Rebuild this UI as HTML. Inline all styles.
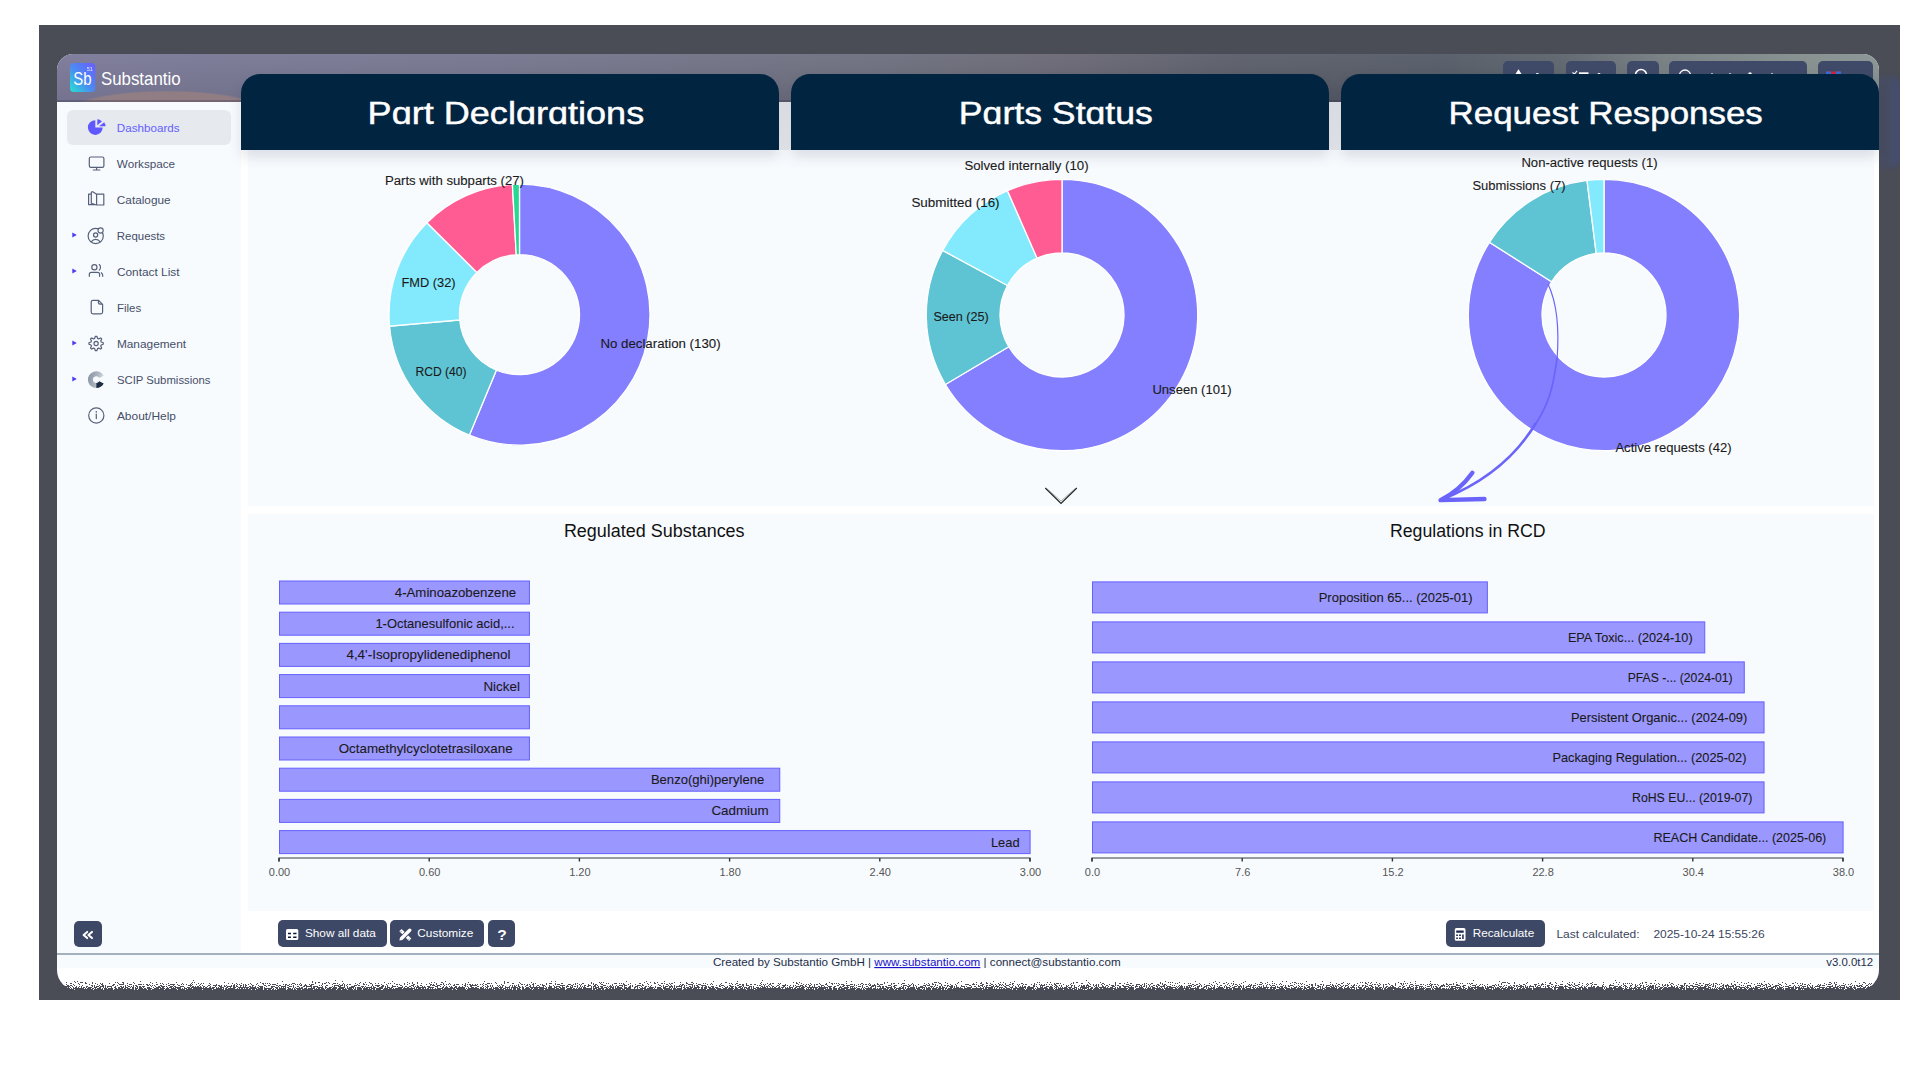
<!DOCTYPE html>
<html><head><meta charset="utf-8">
<style>
* { margin:0; padding:0; box-sizing:border-box; }
html,body { width:1920px; height:1080px; overflow:hidden; background:#fff; }
.a { position:absolute; }
.ttl { position:absolute; top:74px; width:538px; height:76px; background:#012441; border-radius:19px 19px 0 0; box-shadow:0 7px 14px rgba(20,30,60,0.13); }
.btn { position:absolute; top:920px; height:27px; background:#3d4866; border-radius:5px; }
.hb { position:absolute; top:61px; height:30px; background:#3f4a68; border-radius:5px; }
svg text { font-family:"Liberation Sans", sans-serif; }
</style></head><body>
<div class="a" style="left:39px;top:25px;width:1861px;height:975px;background:#4a4c56"></div>
<div class="a" style="left:57px;top:54px;width:1822px;height:936px;background:#fff;border-radius:16px 16px 20px 20px;overflow:hidden">
  <div class="a" style="left:0;top:0;width:1822px;height:48px;background:linear-gradient(180deg,rgba(255,255,255,0.03),rgba(0,0,0,0.07)),linear-gradient(90deg,#7d7b9a 0%,#777890 24%,#6f7180 45%,#6c6a76 55%,#5c606c 65%,#575d69 76%,#5f666e 82.5%,#777f83 88%,#86908f 96%,#8a9494 100%)"></div>
  <div class="a" style="left:0;top:0;width:1822px;height:48px;background:radial-gradient(ellipse 100px 21px at 110px 57.5px, rgba(152,128,130,0.8) 0%, rgba(152,128,130,0.8) 93%, rgba(152,128,130,0) 100%)"></div>
  <div class="a" style="left:0;top:46px;width:1822px;height:2px;background:rgba(60,60,80,0.35)"></div>
  <div class="a" style="left:0;top:48px;width:184px;height:851px;background:#f8fbfe"></div>
</div>
<div class="hb" style="left:1503px;width:51px"></div>
<div class="hb" style="left:1566px;width:50px"></div>
<div class="hb" style="left:1627px;width:32px"></div>
<div class="hb" style="left:1669px;width:138px"></div>
<div class="hb" style="left:1818px;width:55px"></div>
<svg class="a" style="left:0;top:0" width="1920" height="74"><path d="M1515.5,74 L1518.5,69.3 L1521.5,74 Z" fill="#fff"/><circle cx="1537.3" cy="74.5" r="1.6" fill="#fff"/>
<path d="M1572.5,72.5 L1574.5,74 L1577,70.8" fill="none" stroke="#fff" stroke-width="1.1"/><rect x="1579" y="72.3" width="9.5" height="1.8" fill="#fff"/><circle cx="1599" cy="74.5" r="1.6" fill="#fff"/>
<circle cx="1641" cy="75" r="5.5" fill="none" stroke="#fff" stroke-width="1.6"/>
<circle cx="1685" cy="75.5" r="5.5" fill="none" stroke="#fff" stroke-width="1.3"/><circle cx="1712" cy="74.5" r="1.3" fill="#fff"/><circle cx="1730" cy="74.5" r="1.3" fill="#fff"/><circle cx="1750" cy="74" r="1.8" fill="#fff"/><circle cx="1772" cy="74.5" r="1.3" fill="#fff"/>
<rect x="1826" y="71.5" width="15" height="2.5" fill="#c8283c"/><rect x="1826" y="71.5" width="5" height="2.5" fill="#3a6bd6"/><rect x="1836" y="71.5" width="5" height="2.5" fill="#3a6bd6"/></svg>
<div class="a" style="left:241px;top:102px;width:1638px;height:48px;background:linear-gradient(180deg,#e4e7eb,#e8eaee)"></div>
<div class="a" style="left:248px;top:150px;width:1626px;height:356px;background:#f8fbfe"></div>
<div class="a" style="left:248px;top:514px;width:1626px;height:397px;background:#f8fbfe"></div>
<div class="a" style="left:1879px;top:72px;width:21px;height:100px;overflow:hidden"><div class="a" style="left:-10px;top:4px;width:31px;height:92px;background:linear-gradient(90deg,rgba(70,82,115,0.45),rgba(66,80,130,0.25) 60%,rgba(60,80,150,0.5));border-radius:0 10px 10px 0;filter:blur(2px)"></div></div>
<div class="a" style="left:57px;top:955px;width:1822px;height:13px;background:#f8fbfe"></div>
<div class="a" style="left:57px;top:953px;width:1822px;height:2px;background:#a3b0bd"></div>
<div class="a" style="left:67px;top:110px;width:164px;height:35px;background:#e6e9ee;border-radius:6px"></div>
<div class="ttl" style="left:241px"></div>
<div class="ttl" style="left:791px"></div>
<div class="ttl" style="left:1341px"></div>
<div class="btn" style="left:278px;width:109px"></div>
<div class="btn" style="left:390px;width:94px"></div>
<div class="btn" style="left:488px;width:27px"></div>
<div class="btn" style="left:1446px;width:99px"></div>
<div class="btn" style="left:74px;top:921px;width:28px;height:26px"></div>
<svg class="a" style="left:0;top:0" width="1920" height="1080">
<defs>
<linearGradient id="tg" x1="0" y1="0" x2="0" y2="1"><stop offset="0" stop-color="#000" stop-opacity="0"/><stop offset="1" stop-color="#000" stop-opacity="1"/></linearGradient>
<filter id="tear" x="0" y="0" width="1" height="1" filterUnits="objectBoundingBox">
<feTurbulence type="fractalNoise" baseFrequency="0.9" numOctaves="3" seed="7" result="n"/>
<feComposite in="SourceGraphic" in2="n" operator="arithmetic" k1="0" k2="1" k3="1.6" k4="-0.78" result="m"/>
<feComponentTransfer in="m" result="t"><feFuncA type="discrete" tableValues="0 1"/></feComponentTransfer>
<feFlood flood-color="#4a4c56"/>
<feComposite in2="t" operator="in"/>
</filter>
</defs>
<path d="M519.50,184.20 A130.5,130.5 0 1 1 469.35,435.18 L496.44,370.09 A60,60 0 1 0 519.50,254.70 Z" fill="#837ffe" stroke="#fff" stroke-width="1.3"/>
<path d="M469.35,435.18 A130.5,130.5 0 0 1 389.51,326.22 L459.73,320.00 A60,60 0 0 0 496.44,370.09 Z" fill="#5ec4d4" stroke="#fff" stroke-width="1.3"/>
<path d="M389.51,326.22 A130.5,130.5 0 0 1 426.91,222.74 L476.93,272.42 A60,60 0 0 0 459.73,320.00 Z" fill="#83eafe" stroke="#fff" stroke-width="1.3"/>
<path d="M426.91,222.74 A130.5,130.5 0 0 1 512.40,184.39 L516.24,254.79 A60,60 0 0 0 476.93,272.42 Z" fill="#ff5c94" stroke="#fff" stroke-width="1.3"/>
<path d="M512.40,184.39 A130.5,130.5 0 0 1 519.50,184.20 L519.50,254.70 A60,60 0 0 0 516.24,254.79 Z" fill="#26d894" stroke="#fff" stroke-width="1.3"/>
<path d="M1062.00,179.30 A135.7,135.7 0 1 1 945.43,384.46 L1008.74,346.74 A62,62 0 1 0 1062.00,253.00 Z" fill="#837ffe" stroke="#fff" stroke-width="1.3"/>
<path d="M945.43,384.46 A135.7,135.7 0 0 1 942.66,250.41 L1007.47,285.49 A62,62 0 0 0 1008.74,346.74 Z" fill="#5ec4d4" stroke="#fff" stroke-width="1.3"/>
<path d="M942.66,250.41 A135.7,135.7 0 0 1 1007.49,190.73 L1037.09,258.22 A62,62 0 0 0 1007.47,285.49 Z" fill="#83eafe" stroke="#fff" stroke-width="1.3"/>
<path d="M1007.49,190.73 A135.7,135.7 0 0 1 1062.00,179.30 L1062.00,253.00 A62,62 0 0 0 1037.09,258.22 Z" fill="#ff5c94" stroke="#fff" stroke-width="1.3"/>
<path d="M1604.00,179.30 A135.7,135.7 0 1 1 1489.42,242.29 L1551.65,281.78 A62,62 0 1 0 1604.00,253.00 Z" fill="#837ffe" stroke="#fff" stroke-width="1.3"/>
<path d="M1489.42,242.29 A135.7,135.7 0 0 1 1586.99,180.37 L1596.23,253.49 A62,62 0 0 0 1551.65,281.78 Z" fill="#5ec4d4" stroke="#fff" stroke-width="1.3"/>
<path d="M1586.99,180.37 A135.7,135.7 0 0 1 1604.00,179.30 L1604.00,253.00 A62,62 0 0 0 1596.23,253.49 Z" fill="#83eafe" stroke="#fff" stroke-width="1.3"/>
<text x="384.9" y="185.2" font-size="12.5" fill="#1a1a1a" textLength="139.1" lengthAdjust="spacingAndGlyphs" stroke="#1a1a1a" stroke-width="0.1">Parts with subparts (27)</text>
<text x="401.4" y="287.3" font-size="12.5" fill="#1a1a1a" textLength="54.2" lengthAdjust="spacingAndGlyphs" stroke="#1a1a1a" stroke-width="0.1">FMD (32)</text>
<text x="415.4" y="376.3" font-size="12.5" fill="#1a1a1a" textLength="51.2" lengthAdjust="spacingAndGlyphs" stroke="#1a1a1a" stroke-width="0.1">RCD (40)</text>
<text x="600.4" y="348.3" font-size="12.5" fill="#1a1a1a" textLength="120.2" lengthAdjust="spacingAndGlyphs" stroke="#1a1a1a" stroke-width="0.1">No declaration (130)</text>
<text x="964.4" y="170.3" font-size="12.5" fill="#1a1a1a" textLength="124.2" lengthAdjust="spacingAndGlyphs" stroke="#1a1a1a" stroke-width="0.1">Solved internally (10)</text>
<text x="911.4" y="207.3" font-size="12.5" fill="#1a1a1a" textLength="88.2" lengthAdjust="spacingAndGlyphs" stroke="#1a1a1a" stroke-width="0.1">Submitted (16)</text>
<text x="933.4" y="321.3" font-size="12.5" fill="#1a1a1a" textLength="55.2" lengthAdjust="spacingAndGlyphs" stroke="#1a1a1a" stroke-width="0.1">Seen (25)</text>
<text x="1152.4" y="394.3" font-size="12.5" fill="#1a1a1a" textLength="79.2" lengthAdjust="spacingAndGlyphs" stroke="#1a1a1a" stroke-width="0.1">Unseen (101)</text>
<text x="1521.4" y="167.3" font-size="12.5" fill="#1a1a1a" textLength="136.2" lengthAdjust="spacingAndGlyphs" stroke="#1a1a1a" stroke-width="0.1">Non-active requests (1)</text>
<text x="1472.4" y="190.3" font-size="12.5" fill="#1a1a1a" textLength="93.2" lengthAdjust="spacingAndGlyphs" stroke="#1a1a1a" stroke-width="0.1">Submissions (7)</text>
<text x="1615.4" y="452.3" font-size="12.5" fill="#1a1a1a" textLength="116.2" lengthAdjust="spacingAndGlyphs" stroke="#1a1a1a" stroke-width="0.1">Active requests (42)</text>
<rect x="279.5" y="581.00" width="249.93" height="23" fill="#9a97fe" stroke="#6560ff" stroke-width="1"/>
<text x="394.8" y="597.0" font-size="13" fill="#1a1a1a" textLength="121.3" lengthAdjust="spacingAndGlyphs" stroke="#1a1a1a" stroke-width="0.1">4-Aminoazobenzene</text>
<rect x="279.5" y="612.20" width="249.93" height="23" fill="#9a97fe" stroke="#6560ff" stroke-width="1"/>
<text x="375.4" y="628.2" font-size="13" fill="#1a1a1a" textLength="139.2" lengthAdjust="spacingAndGlyphs" stroke="#1a1a1a" stroke-width="0.1">1-Octanesulfonic acid,...</text>
<rect x="279.5" y="643.40" width="249.93" height="23" fill="#9a97fe" stroke="#6560ff" stroke-width="1"/>
<text x="346.4" y="659.4" font-size="13" fill="#1a1a1a" textLength="164.2" lengthAdjust="spacingAndGlyphs" stroke="#1a1a1a" stroke-width="0.1">4,4'-Isopropylidenediphenol</text>
<rect x="279.5" y="674.60" width="249.93" height="23" fill="#9a97fe" stroke="#6560ff" stroke-width="1"/>
<text x="483.4" y="690.6" font-size="13" fill="#1a1a1a" textLength="36.5" lengthAdjust="spacingAndGlyphs" stroke="#1a1a1a" stroke-width="0.1">Nickel</text>
<rect x="279.5" y="705.80" width="249.93" height="23" fill="#9a97fe" stroke="#6560ff" stroke-width="1"/>
<rect x="279.5" y="737.00" width="249.93" height="23" fill="#9a97fe" stroke="#6560ff" stroke-width="1"/>
<text x="338.7" y="753.0" font-size="13" fill="#1a1a1a" textLength="173.9" lengthAdjust="spacingAndGlyphs" stroke="#1a1a1a" stroke-width="0.1">Octamethylcyclotetrasiloxane</text>
<rect x="279.5" y="768.20" width="500.27" height="23" fill="#9a97fe" stroke="#6560ff" stroke-width="1"/>
<text x="650.9" y="784.2" font-size="13" fill="#1a1a1a" textLength="113.3" lengthAdjust="spacingAndGlyphs" stroke="#1a1a1a" stroke-width="0.1">Benzo(ghi)perylene</text>
<rect x="279.5" y="799.40" width="500.27" height="23" fill="#9a97fe" stroke="#6560ff" stroke-width="1"/>
<text x="711.4" y="815.4" font-size="13" fill="#1a1a1a" textLength="57.2" lengthAdjust="spacingAndGlyphs" stroke="#1a1a1a" stroke-width="0.1">Cadmium</text>
<rect x="279.5" y="830.60" width="750.60" height="23" fill="#9a97fe" stroke="#6560ff" stroke-width="1"/>
<text x="990.9" y="846.6" font-size="13" fill="#1a1a1a" textLength="28.7" lengthAdjust="spacingAndGlyphs" stroke="#1a1a1a" stroke-width="0.1">Lead</text>
<path d="M279,861.5 V858 H1030 V861.5" fill="none" stroke="#3a3a3a" stroke-width="1.2"/>
<line x1="279.0" y1="858" x2="279.0" y2="861.5" stroke="#333" stroke-width="1.4"/>
<text x="279.5" y="875.5" font-size="11" fill="#555" text-anchor="middle">0.00</text>
<line x1="429.2" y1="858" x2="429.2" y2="861.5" stroke="#333" stroke-width="1.4"/>
<text x="429.7" y="875.5" font-size="11" fill="#555" text-anchor="middle">0.60</text>
<line x1="579.4" y1="858" x2="579.4" y2="861.5" stroke="#333" stroke-width="1.4"/>
<text x="579.9" y="875.5" font-size="11" fill="#555" text-anchor="middle">1.20</text>
<line x1="729.6" y1="858" x2="729.6" y2="861.5" stroke="#333" stroke-width="1.4"/>
<text x="730.1" y="875.5" font-size="11" fill="#555" text-anchor="middle">1.80</text>
<line x1="879.8" y1="858" x2="879.8" y2="861.5" stroke="#333" stroke-width="1.4"/>
<text x="880.3" y="875.5" font-size="11" fill="#555" text-anchor="middle">2.40</text>
<line x1="1030.0" y1="858" x2="1030.0" y2="861.5" stroke="#333" stroke-width="1.4"/>
<text x="1030.5" y="875.5" font-size="11" fill="#555" text-anchor="middle">3.00</text>
<rect x="1092.5" y="581.90" width="394.86" height="31" fill="#9a97fe" stroke="#6560ff" stroke-width="1"/>
<text x="1318.7" y="601.9" font-size="13" fill="#1a1a1a" textLength="153.9" lengthAdjust="spacingAndGlyphs" stroke="#1a1a1a" stroke-width="0.1">Proposition 65... (2025-01)</text>
<rect x="1092.5" y="621.90" width="612.26" height="31" fill="#9a97fe" stroke="#6560ff" stroke-width="1"/>
<text x="1567.9" y="641.9" font-size="13" fill="#1a1a1a" textLength="124.7" lengthAdjust="spacingAndGlyphs" stroke="#1a1a1a" stroke-width="0.1">EPA Toxic... (2024-10)</text>
<rect x="1092.5" y="661.90" width="651.78" height="31" fill="#9a97fe" stroke="#6560ff" stroke-width="1"/>
<text x="1627.7" y="681.9" font-size="13" fill="#1a1a1a" textLength="104.9" lengthAdjust="spacingAndGlyphs" stroke="#1a1a1a" stroke-width="0.1">PFAS -... (2024-01)</text>
<rect x="1092.5" y="701.90" width="671.55" height="31" fill="#9a97fe" stroke="#6560ff" stroke-width="1"/>
<text x="1570.9" y="721.9" font-size="13" fill="#1a1a1a" textLength="176.4" lengthAdjust="spacingAndGlyphs" stroke="#1a1a1a" stroke-width="0.1">Persistent Organic... (2024-09)</text>
<rect x="1092.5" y="741.90" width="671.55" height="31" fill="#9a97fe" stroke="#6560ff" stroke-width="1"/>
<text x="1552.4" y="761.9" font-size="13" fill="#1a1a1a" textLength="194.0" lengthAdjust="spacingAndGlyphs" stroke="#1a1a1a" stroke-width="0.1">Packaging Regulation... (2025-02)</text>
<rect x="1092.5" y="781.90" width="671.55" height="31" fill="#9a97fe" stroke="#6560ff" stroke-width="1"/>
<text x="1632.0" y="801.9" font-size="13" fill="#1a1a1a" textLength="120.4" lengthAdjust="spacingAndGlyphs" stroke="#1a1a1a" stroke-width="0.1">RoHS EU... (2019-07)</text>
<rect x="1092.5" y="821.90" width="750.60" height="31" fill="#9a97fe" stroke="#6560ff" stroke-width="1"/>
<text x="1653.4" y="841.9" font-size="13" fill="#1a1a1a" textLength="172.9" lengthAdjust="spacingAndGlyphs" stroke="#1a1a1a" stroke-width="0.1">REACH Candidate... (2025-06)</text>
<path d="M1092,861.5 V858 H1843 V861.5" fill="none" stroke="#3a3a3a" stroke-width="1.2"/>
<line x1="1092.0" y1="858" x2="1092.0" y2="861.5" stroke="#333" stroke-width="1.4"/>
<text x="1092.5" y="875.5" font-size="11" fill="#555" text-anchor="middle">0.0</text>
<line x1="1242.2" y1="858" x2="1242.2" y2="861.5" stroke="#333" stroke-width="1.4"/>
<text x="1242.7" y="875.5" font-size="11" fill="#555" text-anchor="middle">7.6</text>
<line x1="1392.4" y1="858" x2="1392.4" y2="861.5" stroke="#333" stroke-width="1.4"/>
<text x="1392.9" y="875.5" font-size="11" fill="#555" text-anchor="middle">15.2</text>
<line x1="1542.6" y1="858" x2="1542.6" y2="861.5" stroke="#333" stroke-width="1.4"/>
<text x="1543.1" y="875.5" font-size="11" fill="#555" text-anchor="middle">22.8</text>
<line x1="1692.8" y1="858" x2="1692.8" y2="861.5" stroke="#333" stroke-width="1.4"/>
<text x="1693.3" y="875.5" font-size="11" fill="#555" text-anchor="middle">30.4</text>
<line x1="1843.0" y1="858" x2="1843.0" y2="861.5" stroke="#333" stroke-width="1.4"/>
<text x="1843.5" y="875.5" font-size="11" fill="#555" text-anchor="middle">38.0</text>
<text x="563.9" y="537.0" font-size="17.5" fill="#111" textLength="180.7" lengthAdjust="spacingAndGlyphs">Regulated Substances</text>
<text x="1389.9" y="537.0" font-size="17.5" fill="#111" textLength="155.7" lengthAdjust="spacingAndGlyphs">Regulations in RCD</text>
<path d="M1045.3,488 L1061,503.5 L1076.8,488" fill="none" stroke="#222" stroke-width="1.2"/>
<path d="M1046.5,488.3 L1061,501 L1075.5,488.3" fill="none" stroke="#777" stroke-width="0.6"/>
<path d="M1548,284 C1558,305 1559,335 1557,360" fill="none" stroke="#6a64fb" stroke-width="1.2"/>
<path d="M1557,358 C1553,390 1548,405 1535,425" fill="none" stroke="#6a64fb" stroke-width="1.7"/>
<path d="M1536,423 C1515,458 1485,482 1443,499" fill="none" stroke="#6a64fb" stroke-width="2.6"/>
<path d="M1472.4,472.8 C1463,486 1453,494 1440.5,500.2 L1484.5,499" fill="none" stroke="#6a64fb" stroke-width="4.3" stroke-linecap="round" stroke-linejoin="round"/>
<text x="367.6" y="123.8" font-size="31.4" fill="#ffffff" textLength="276.6" lengthAdjust="spacingAndGlyphs" stroke="#fff" stroke-width="0.45">P&#x251;rt Decl&#x251;r&#x251;tions</text>
<text x="958.8" y="123.8" font-size="31.4" fill="#ffffff" textLength="194.1" lengthAdjust="spacingAndGlyphs" stroke="#fff" stroke-width="0.45">P&#x251;rts St&#x251;tus</text>
<text x="1448.6" y="123.8" font-size="31.4" fill="#ffffff" textLength="314.2" lengthAdjust="spacingAndGlyphs" stroke="#fff" stroke-width="0.45">Request Responses</text>
<text x="116.8" y="131.6" font-size="11.8" fill="#6360fe" textLength="62.8" lengthAdjust="spacingAndGlyphs">Dashboards</text>
<text x="116.8" y="167.6" font-size="11.8" fill="#454e68" textLength="58.3" lengthAdjust="spacingAndGlyphs">Workspace</text>
<text x="116.8" y="203.6" font-size="11.8" fill="#454e68" textLength="53.8" lengthAdjust="spacingAndGlyphs">Catalogue</text>
<text x="116.8" y="239.6" font-size="11.8" fill="#454e68" textLength="48.3" lengthAdjust="spacingAndGlyphs">Requests</text>
<path d="M72.3,232.4 L76.8,235 L72.3,237.6 Z" fill="#4b3cf5"/>
<text x="116.9" y="275.6" font-size="11.8" fill="#454e68" textLength="62.6" lengthAdjust="spacingAndGlyphs">Contact List</text>
<path d="M72.3,268.4 L76.8,271 L72.3,273.6 Z" fill="#4b3cf5"/>
<text x="116.9" y="311.6" font-size="11.8" fill="#454e68" textLength="24.3" lengthAdjust="spacingAndGlyphs">Files</text>
<text x="116.9" y="347.6" font-size="11.8" fill="#454e68" textLength="69.2" lengthAdjust="spacingAndGlyphs">Management</text>
<path d="M72.3,340.4 L76.8,343 L72.3,345.6 Z" fill="#4b3cf5"/>
<text x="116.9" y="383.6" font-size="11.8" fill="#454e68" textLength="93.6" lengthAdjust="spacingAndGlyphs">SCIP Submissions</text>
<path d="M72.3,376.4 L76.8,379 L72.3,381.6 Z" fill="#4b3cf5"/>
<text x="116.9" y="419.6" font-size="11.8" fill="#454e68" textLength="59.1" lengthAdjust="spacingAndGlyphs">About/Help</text>
<path d="M95.3,127.6 V120.2 A7.4,7.4 0 1 0 102.7,127.6 Z" fill="#5f58ff"/>
<path d="M97.3,125.3 V119.3 A6.2,6.2 0 0 1 101.9,121.5 Z" fill="#5f58ff"/>
<path d="M99,126.3 L104.2,122.3 A6.6,6.6 0 0 1 105.6,126.3 Z" fill="#5f58ff"/>
<rect x="89.3" y="157" width="14.6" height="10.3" rx="1.6" fill="none" stroke="#56607a" stroke-width="1.2" stroke-linecap="round" stroke-linejoin="round"/><path d="M96.6,167.5 V169.8 M93.3,170 H99.9" fill="none" stroke="#56607a" stroke-width="1.2" stroke-linecap="round" stroke-linejoin="round"/>
<path d="M96.6,194.2 H103.8 V205 H96.6 Z M96.6,205 L91.3,203.2 V192.8 C91.3,191.7 92.4,191.6 93.1,191.9 L96.6,194.2 M90.9,194.2 H88.6 V204.6 H94.5" fill="none" stroke="#56607a" stroke-width="1.2" stroke-linecap="round" stroke-linejoin="round"/>
<circle cx="95.7" cy="236" r="7.6" fill="none" stroke="#56607a" stroke-width="1.2" stroke-linecap="round" stroke-linejoin="round"/><circle cx="95.6" cy="235" r="2.1" fill="none" stroke="#56607a" stroke-width="1.2" stroke-linecap="round" stroke-linejoin="round"/><path d="M91.2,241.8 C93.5,238.6 97.9,238.6 100.2,241.8" fill="none" stroke="#56607a" stroke-width="1.2" stroke-linecap="round" stroke-linejoin="round"/><circle cx="100.6" cy="230.5" r="2.6" fill="#f8fbfe" stroke="#56607a" stroke-width="1.1"/>
<circle cx="94.4" cy="267.3" r="2.6" fill="none" stroke="#56607a" stroke-width="1.2" stroke-linecap="round" stroke-linejoin="round"/><path d="M89.3,276.3 V274.4 C89.3,273 90.3,272.4 91.5,272.4 H97.5 C98.7,272.4 99.6,273 99.6,274.4 V276.3 M99.3,264.6 C100.9,265.3 100.9,269.3 99.3,270.1 M101.3,272.7 C102.3,273.3 102.8,274.5 102.8,276.3" fill="none" stroke="#56607a" stroke-width="1.2" stroke-linecap="round" stroke-linejoin="round"/>
<path d="M93,300.3 H98.6 L102.6,304.3 V312 C102.6,313 101.8,313.8 100.8,313.8 H93 C92,313.8 91.2,313 91.2,312 V302.1 C91.2,301.1 92,300.3 93,300.3 Z M98.4,300.5 V302.5 C98.4,303.5 99.2,304.2 100.1,304.2 H102.4" fill="none" stroke="#56607a" stroke-width="1.2" stroke-linecap="round" stroke-linejoin="round"/>
<path d="M96.81,336.33 L97.64,338.43 L98.60,338.83 L100.67,337.93 L101.67,338.93 L100.77,341.00 L101.17,341.96 L103.27,342.79 L103.27,344.21 L101.17,345.04 L100.77,346.00 L101.67,348.07 L100.67,349.07 L98.60,348.17 L97.64,348.57 L96.81,350.67 L95.39,350.67 L94.56,348.57 L93.60,348.17 L91.53,349.07 L90.53,348.07 L91.43,346.00 L91.03,345.04 L88.93,344.21 L88.93,342.79 L91.03,341.96 L91.43,341.00 L90.53,338.93 L91.53,337.93 L93.60,338.83 L94.56,338.43 L95.39,336.33 Z" fill="none" stroke="#56607a" stroke-width="1.2" stroke-linecap="round" stroke-linejoin="round"/><circle cx="96.1" cy="343.5" r="2.1" fill="none" stroke="#56607a" stroke-width="1.2" stroke-linecap="round" stroke-linejoin="round"/>
<defs><linearGradient id="sc" x1="0" y1="0" x2="1" y2="0.3"><stop offset="0" stop-color="#8691a0"/><stop offset="0.6" stop-color="#a9b2bc"/><stop offset="1" stop-color="#d6dbe0"/></linearGradient></defs>
<path d="M103.72,375.66 A8.4,8.4 0 1 0 96.30,388.00 L96.30,382.90 A3.3,3.3 0 1 1 99.21,378.05 Z" fill="url(#sc)"/>
<path d="M103.72,383.54 A8.4,8.4 0 0 1 96.30,388.00 L96.30,382.90 A3.3,3.3 0 0 0 99.21,381.15 Z" fill="#1b2c44"/>
<circle cx="96.3" cy="415.5" r="7.6" fill="none" stroke="#56607a" stroke-width="1.2" stroke-linecap="round" stroke-linejoin="round"/><path d="M96.3,414.2 V418.6" fill="none" stroke="#56607a" stroke-width="1.2" stroke-linecap="round" stroke-linejoin="round" stroke-width="1.4"/><circle cx="96.3" cy="411.9" r="0.8" fill="#56607a"/>
<defs><linearGradient id="lg" x1="0" y1="1" x2="1" y2="0"><stop offset="0" stop-color="#25e5d2"/><stop offset="0.45" stop-color="#4a8df0"/><stop offset="1" stop-color="#6a5cff"/></linearGradient></defs>
<rect x="70" y="63" width="25.3" height="29" rx="4" fill="url(#lg)"/>
<text x="73.3" y="85.2" font-size="18.5" fill="#fff" textLength="18.3" lengthAdjust="spacingAndGlyphs">Sb</text>
<text x="86.8" y="70.8" font-size="5.5" fill="#fff" opacity="0.85">51</text>
<text x="100.9" y="85.2" font-size="18.5" fill="#fff" textLength="79.7" lengthAdjust="spacingAndGlyphs">Substantio</text>
<text x="304.9" y="936.8" font-size="11.8" fill="#fff" textLength="71.0" lengthAdjust="spacingAndGlyphs">Show all data</text>
<text x="417.3" y="936.8" font-size="11.8" fill="#fff" textLength="56.0" lengthAdjust="spacingAndGlyphs">Customize</text>
<text x="501.9" y="939.5" font-size="15.5" font-weight="bold" fill="#fff" text-anchor="middle">?</text>
<text x="1472.7" y="936.8" font-size="11.8" fill="#fff" textLength="61.5" lengthAdjust="spacingAndGlyphs">Recalculate</text>
<text x="1556.4" y="938.0" font-size="11.8" fill="#3b4560" textLength="83.2" lengthAdjust="spacingAndGlyphs">Last calculated:</text>
<text x="1653.4" y="938.0" font-size="11.8" fill="#3b4560" textLength="111.2" lengthAdjust="spacingAndGlyphs">2025-10-24 15:55:26</text>
<rect x="286" y="929" width="12.3" height="11" rx="1.6" fill="#fff"/><path d="M288,932.8 h3 v1.5 h-3z M293.2,932.8 h3.3 v1.5 h-3.3z M288,936.4 h3 v1.5 h-3z M293.2,936.4 h3.3 v1.5 h-3.3z" fill="#0d1633"/>
<path d="M399.3,931.2 L401.6,928.9 L411.3,938.6 L409,940.9 Z" fill="#fff"/><path d="M400.6,932 l1.2,-1.2 M408.4,939.8 l1.2,-1.2" stroke="#3d4866" stroke-width="0.6"/>
<path d="M400.3,939.8 L410.2,929.9" stroke="#3d4866" stroke-width="5"/><path d="M399.4,940.6 L400,937.6 L408.5,929.1 C409.3,928.3 410.3,928.3 411,929 C411.7,929.7 411.7,930.7 410.9,931.5 L402.4,940 Z" fill="#fff"/>
<rect x="1454.8" y="928.1" width="10.7" height="12.7" rx="1.6" fill="#fff"/><path d="M1456.2,930.5 h7.5 v2.3 h-7.5z M1456.2,934.6 h1.7 v1.3 h-1.7z M1459.1,934.6 h1.8 v1.3 h-1.8z M1456.2,937.6 h1.7 v1.3 h-1.7z M1459.1,937.6 h1.8 v1.3 h-1.8z M1462.2,934.6 h1.5 v4.3 h-1.5z" fill="#1c2648"/>
<path d="M87.2,931.9 L83.6,935 L87.2,938.1 M92,931.9 L88.4,935 L92,938.1" fill="none" stroke="#fff" stroke-width="2" stroke-linecap="round" stroke-linejoin="round"/>
<text x="712.9" y="966.0" font-size="11.5" fill="#1e2d45" textLength="407.7" lengthAdjust="spacingAndGlyphs">Created by Substantio GmbH | <tspan fill="#1a12c8" text-decoration="underline">www.substantio.com</tspan> | connect@substantio.com</text>
<text x="1826.2" y="965.6" font-size="11.5" fill="#1e2d45" textLength="46.9" lengthAdjust="spacingAndGlyphs">v3.0.0t12</text>
<rect x="57" y="980" width="1822" height="14" fill="url(#tg)" filter="url(#tear)"/>
<rect x="39" y="991" width="1861" height="9" fill="#4a4c56"/>
</svg>
</body></html>
